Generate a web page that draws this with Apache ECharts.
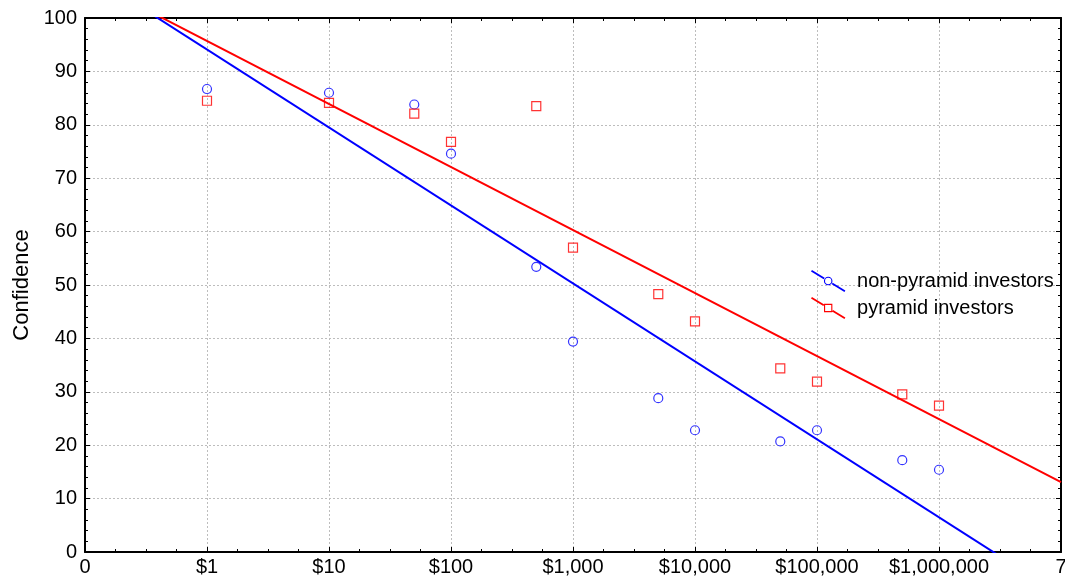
<!DOCTYPE html>
<html>
<head>
<meta charset="utf-8">
<script src="https://cdn.jsdelivr.net/npm/echarts@6/dist/echarts.min.js"></script>
<style>
html,body{margin:0;padding:0;background:#fff;}
#chart{width:1065px;height:584px;}
</style>
</head>
<body>
<div id="chart"></div>
<script>
// ---- data ----
const amounts = [1, 10, 50, 100, 500, 1000, 5000, 10000, 50000, 100000, 500000, 1000000];
const nonPyramid = [86.7, 86.0, 83.8, 74.6, 53.4, 39.4, 28.8, 22.8, 20.7, 22.8, 17.2, 15.4];
const pyramid = [84.5, 84.1, 82.1, 76.8, 83.5, 57.0, 48.3, 43.2, 34.4, 31.9, 29.5, 27.4];
// fitted lines (endpoints in axis units: x = log10(amount) + 1)
const nonPyramidFit = [[0, 108.7], [8, -8.1]];
const pyramidFit = [[0, 107.5], [8, 13.1]];
const xTickLabels = ['0', '$1', '$10', '$100', '$1,000', '$10,000', '$100,000', '$1,000,000', '7'];
const yTickLabels = ['0', '10', '20', '30', '40', '50', '60', '70', '80', '90', '100'];
const seriesNames = ['non-pyramid investors', 'pyramid investors'];
const yAxisTitle = 'Confidence';

// ---- build ----
const toX = a => Math.log10(a) + 1;
const blueData = amounts.map((a, i) => [toX(a), nonPyramid[i]]);
const redData = amounts.map((a, i) => [toX(a), pyramid[i]]);

const FONT = "'Liberation Sans', Arial, sans-serif";
const BLUE = '#0000ff';
const RED = '#ff0000';

// legend glyphs: diagonal line with marker; last tiny subpath only widens the box
const circleIcon = 'path://M0.52,-0.85L14.2,7.5L13.16,9.2L-0.52,0.85Z' +
  'M22.84,12.8L36.52,21.15L35.48,22.85L21.8,14.5Z' +
  'M22.6,11A4.6,4.6 0 1 1 13.4,11A4.6,4.6 0 1 1 22.6,11Z' +
  'M21.4,11A3.4,3.4 0 1 0 14.6,11A3.4,3.4 0 1 0 21.4,11Z' +
  'M41.5,11L41.5,11Z';
const squareIcon = 'path://M0.52,-0.85L13.8,7.26L12.76,8.96L-0.52,0.85Z' +
  'M23.24,13.04L36.52,21.15L35.48,22.85L22.2,14.74Z' +
  'M13.5,6.5L22.5,6.5L22.5,15.5L13.5,15.5Z' +
  'M14.7,7.7L14.7,14.3L21.3,14.3L21.3,7.7Z' +
  'M41.5,11L41.5,11Z';

const axisCommon = {
  type: 'value',
  axisLine: { show: true, onZero: false, lineStyle: { color: '#000', width: 2 } },
  axisTick: { show: true, inside: true, length: 5, lineStyle: { color: '#000', width: 1 } },
  minorTick: { show: true, length: 3, lineStyle: { color: '#000', width: 1 } }
};

const chart = echarts.init(document.getElementById('chart'));
chart.setOption({
  animation: false,
  backgroundColor: '#fff',
  grid: { left: 85, right: 4, top: 18, bottom: 32, containLabel: false, outerBoundsMode: 'none' },
  legend: {
    orient: 'vertical',
    left: 811,
    top: 270,
    padding: 0,
    itemWidth: 43,
    itemHeight: 22,
    itemGap: 5,
    textStyle: { fontSize: 20, color: '#000', fontFamily: FONT },
    data: [
      { name: seriesNames[0], icon: circleIcon, itemStyle: { color: BLUE, borderWidth: 0 } },
      { name: seriesNames[1], icon: squareIcon, itemStyle: { color: RED, borderWidth: 0 } }
    ]
  },
  xAxis: [
    Object.assign({}, axisCommon, {
      position: 'bottom',
      min: 0, max: 8, interval: 1,
      minorTick: Object.assign({}, axisCommon.minorTick, { splitNumber: 4 }),
      axisLabel: {
        show: true, margin: 5, fontSize: 20, color: '#000', fontFamily: FONT,
        formatter: v => xTickLabels[Math.round(v)]
      },
      splitLine: { show: true, lineStyle: { color: '#bdbdbd', width: 1, type: [2, 2] } }
    }),
    Object.assign({}, axisCommon, {
      position: 'top',
      min: 0, max: 8, interval: 1,
      minorTick: Object.assign({}, axisCommon.minorTick, { splitNumber: 4 }),
      axisLabel: { show: false },
      splitLine: { show: false }
    })
  ],
  yAxis: [
    Object.assign({}, axisCommon, {
      position: 'left',
      min: 0, max: 100, interval: 10,
      minorTick: Object.assign({}, axisCommon.minorTick, { splitNumber: 5 }),
      name: yAxisTitle,
      nameLocation: 'middle',
      nameGap: 50,
      nameTextStyle: { fontSize: 22, color: '#000', fontFamily: FONT },
      axisLabel: {
        show: true, margin: 8, fontSize: 20, color: '#000', fontFamily: FONT,
        formatter: v => yTickLabels[Math.round(v / 10)]
      },
      splitLine: { show: true, lineStyle: { color: '#bdbdbd', width: 1, type: [2, 2] } }
    }),
    Object.assign({}, axisCommon, {
      position: 'right',
      min: 0, max: 100, interval: 10,
      minorTick: Object.assign({}, axisCommon.minorTick, { splitNumber: 5 }),
      axisLabel: { show: false },
      splitLine: { show: false }
    })
  ],
  series: [
    {
      name: seriesNames[0], type: 'line', data: nonPyramidFit,
      symbol: 'none', clip: true, silent: true,
      lineStyle: { color: BLUE, width: 2 }, itemStyle: { color: BLUE }
    },
    {
      name: seriesNames[1], type: 'line', data: pyramidFit,
      symbol: 'none', clip: true, silent: true,
      lineStyle: { color: RED, width: 2 }, itemStyle: { color: RED }
    },
    {
      name: seriesNames[0], type: 'scatter', data: blueData,
      symbol: 'circle', symbolSize: 9,
      itemStyle: { color: 'rgba(255,255,255,0)', borderColor: BLUE, borderWidth: 1.2 }
    },
    {
      name: seriesNames[1], type: 'scatter', data: redData,
      symbol: 'rect', symbolSize: 9,
      itemStyle: { color: 'rgba(255,255,255,0)', borderColor: RED, borderWidth: 1.2 }
    }
  ]
});
</script>
</body>
</html>
